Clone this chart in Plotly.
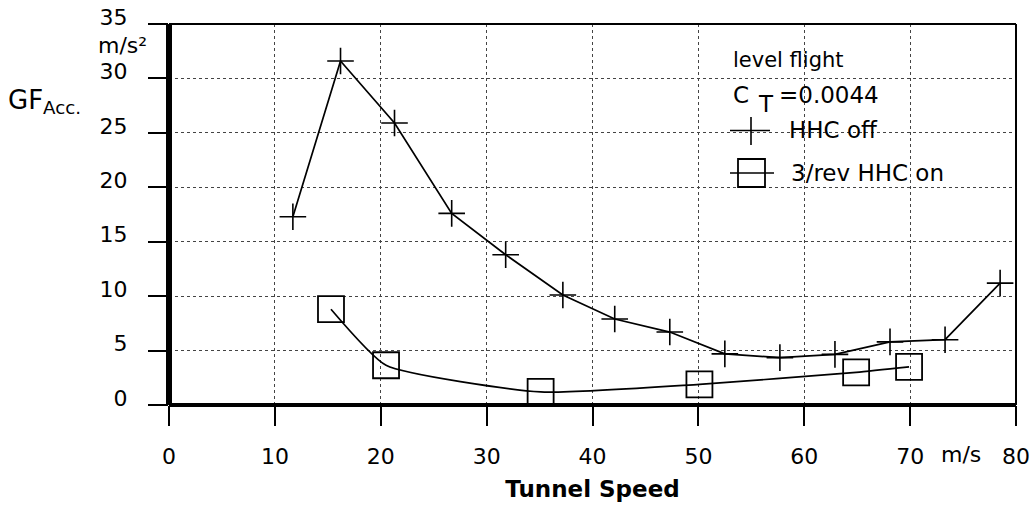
import plotly.graph_objects as go

# Tunnel speed (m/s) and gearbox-flange acceleration (m/s^2)
speed_hhc_off = [11.7, 16.2, 21.3, 26.7, 31.8, 37.2, 42.1, 47.3, 52.5, 57.7, 62.9, 68.1, 73.3, 78.5]
gf_hhc_off = [17.3, 31.6, 25.9, 17.6, 13.8, 10.1, 7.9, 6.7, 4.7, 4.35, 4.65, 5.8, 6.0, 11.2]

speed_hhc_on = [15.3, 20.5, 35.1, 50.1, 64.9, 69.9]
gf_hhc_on = [8.8, 3.65, 1.2, 1.9, 3.0, 3.5]

x_ticks = [0, 10, 20, 30, 40, 50, 60, 70, 80]
y_ticks = [0, 5, 10, 15, 20, 25, 30, 35]

W, H = 1036, 513
ML, MR, MT, MB = 169, 20, 24, 108
FONT = "DejaVu Sans"


def px(x):
    return (x - ML) / (W - ML - MR)


def py(y):
    return (H - MB - y) / (H - MT - MB)


fig = go.Figure()

fig.add_trace(go.Scatter(
    x=speed_hhc_off, y=gf_hhc_off, mode="lines+markers", name="HHC off",
    line=dict(color="black", width=1.7),
    marker=dict(symbol="cross-thin", size=19, color="black",
                line=dict(color="black", width=1.6)),
))
fig.add_trace(go.Scatter(
    x=speed_hhc_on, y=gf_hhc_on, mode="lines+markers", name="3/rev HHC on",
    line=dict(color="black", width=1.7, shape="spline", smoothing=0.5),
    marker=dict(symbol="square-open", size=26, color="black",
                line=dict(color="black", width=1.8)),
))

shapes = [
    # frame: heavy left and bottom axes, thin top and right edges
    dict(type="line", xref="paper", yref="paper", x0=0, x1=0, y0=0, y1=1,
         line=dict(color="black", width=6)),
    dict(type="line", xref="paper", yref="paper", x0=0, x1=1, y0=0, y1=0,
         line=dict(color="black", width=4)),
    dict(type="line", xref="paper", yref="paper", x0=0, x1=1, y0=1, y1=1,
         line=dict(color="black", width=2)),
    dict(type="line", xref="paper", yref="paper", x0=1, x1=1, y0=0, y1=1,
         line=dict(color="black", width=2)),
    # legend keys
    dict(type="line", xref="paper", yref="paper", x0=px(730), x1=px(770),
         y0=py(130.5), y1=py(130.5), line=dict(color="black", width=1.6)),
    dict(type="line", xref="paper", yref="paper", x0=px(751), x1=px(751),
         y0=py(117), y1=py(145), line=dict(color="black", width=1.6)),
    dict(type="rect", xref="paper", yref="paper", x0=px(738), x1=px(765),
         y0=py(159), y1=py(187), line=dict(color="black", width=1.8),
         fillcolor="rgba(0,0,0,0)"),
    dict(type="line", xref="paper", yref="paper", x0=px(730), x1=px(774),
         y0=py(173), y1=py(173), line=dict(color="black", width=1.6)),
]

txt = dict(color="black", family=FONT)
annotations = [
    dict(text="GF<sub>Acc.</sub>", x=px(6), y=py(101), xanchor="left", yanchor="middle",
         font=dict(size=26, **txt)),
    dict(text="m/s²", x=px(122), y=py(46), xanchor="center", yanchor="middle",
         font=dict(size=22, **txt)),
    dict(text="m/s", x=px(961), y=py(454), xanchor="center", yanchor="middle",
         font=dict(size=22, **txt)),
    dict(text="level flight", x=px(731), y=py(60), xanchor="left", yanchor="middle",
         font=dict(size=21, **txt)),
    dict(text="C", x=px(731), y=py(95), xanchor="left", yanchor="middle",
         font=dict(size=23, **txt)),
    dict(text="T", x=px(756), y=py(104), xanchor="left", yanchor="middle",
         font=dict(size=23, **txt)),
    dict(text="=0.0044", x=px(777), y=py(95), xanchor="left", yanchor="middle",
         font=dict(size=23, **txt)),
    dict(text="HHC off", x=px(787), y=py(130), xanchor="left", yanchor="middle",
         font=dict(size=23, **txt)),
    dict(text="3/rev HHC on", x=px(789), y=py(173), xanchor="left", yanchor="middle",
         font=dict(size=23, **txt)),
]
for a in annotations:
    a.update(xref="paper", yref="paper", showarrow=False)

fig.update_layout(
    width=W, height=H,
    margin=dict(l=ML, r=MR, t=MT, b=MB, autoexpand=False),
    paper_bgcolor="white", plot_bgcolor="white",
    showlegend=False,
    font=dict(family=FONT, size=22, color="black"),
    shapes=shapes,
    annotations=annotations,
    xaxis=dict(
        range=[0, 80], tickvals=x_ticks, ticktext=[str(v) for v in x_ticks],
        showline=False, zeroline=False, automargin=False,
        ticks="outside", ticklen=20, tickwidth=2, tickcolor="black",
        ticklabelstandoff=12,
        showgrid=True, gridcolor="#444", griddash="dot", gridwidth=1,
        tickfont=dict(size=22),
        title=dict(text="<b>Tunnel Speed</b>", font=dict(size=23), standoff=12),
    ),
    yaxis=dict(
        range=[0, 35], tickvals=y_ticks, ticktext=[str(v) for v in y_ticks],
        showline=False, zeroline=False, automargin=False,
        ticks="outside", ticklen=20, tickwidth=2, tickcolor="black",
        ticklabelstandoff=16, ticklabelshift=-7,
        showgrid=True, gridcolor="#444", griddash="dot", gridwidth=1,
        tickfont=dict(size=22),
    ),
)

fig.write_html("out.html")
